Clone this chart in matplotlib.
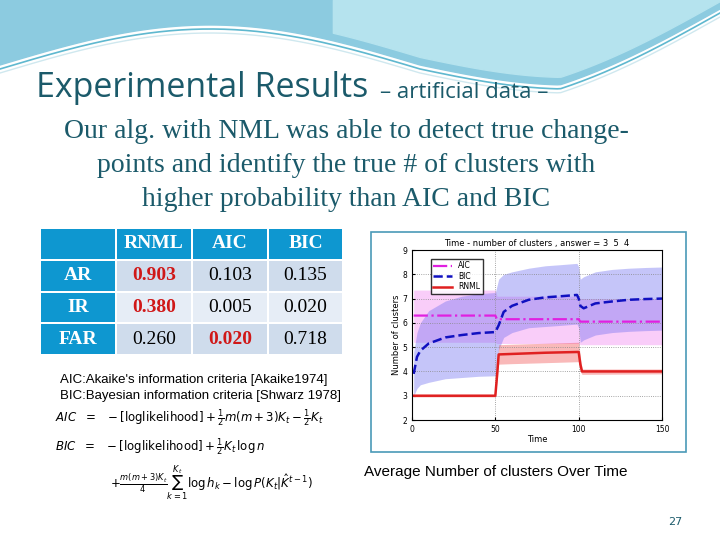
import numpy as np
import matplotlib.pyplot as plt
from matplotlib.patches import Rectangle

# ---- data ----
row_labels = ["AR", "IR", "FAR"]
col_labels = ["RNML", "AIC", "BIC"]
cell_values = [["0.903", "0.103", "0.135"],
               ["0.380", "0.005", "0.020"],
               ["0.260", "0.020", "0.718"]]
highlight = [[True, False, False], [True, False, False], [False, True, False]]

t_bic = [1, 3, 5, 10, 20, 30, 40, 50, 52, 55, 60, 70, 80, 90, 99, 100, 101, 103, 110, 120, 130, 140, 150]
bic_mean = [3.9, 4.6, 4.85, 5.15, 5.4, 5.5, 5.58, 5.62, 5.9, 6.45, 6.7, 6.95, 7.05, 7.1, 7.15, 7.0, 6.7, 6.6, 6.8, 6.88, 6.95, 6.98, 7.0]
bic_lo = [3.0, 3.3, 3.45, 3.55, 3.7, 3.75, 3.8, 3.82, 4.9, 5.4, 5.6, 5.8, 5.85, 5.9, 5.95, 5.8, 5.2, 5.3, 5.5, 5.6, 5.65, 5.68, 5.7]
bic_hi = [4.8, 5.6, 6.0, 6.5, 6.9, 7.1, 7.2, 7.25, 7.8, 8.0, 8.1, 8.25, 8.35, 8.4, 8.45, 8.3, 7.8, 7.9, 8.1, 8.2, 8.25, 8.28, 8.3]

t_aic = [1, 50, 51, 100, 101, 150]
aic_mean = [6.3, 6.3, 6.15, 6.15, 6.05, 6.05]
aic_lo = [5.2, 5.2, 5.15, 5.15, 5.1, 5.1]
aic_hi = [7.35, 7.35, 7.1, 7.1, 7.0, 7.0]

t_rnml = [1, 50, 51, 52, 60, 80, 99, 100, 101, 102, 150]
rnml_mean = [3.0, 3.0, 3.8, 4.7, 4.72, 4.77, 4.8, 4.8, 4.3, 4.0, 4.0]
rnml_lo = [2.95, 2.95, 3.6, 4.3, 4.32, 4.36, 4.4, 4.4, 4.0, 3.88, 3.9]
rnml_hi = [3.05, 3.05, 4.1, 5.1, 5.12, 5.16, 5.2, 5.2, 4.6, 4.1, 4.1]

fig = plt.figure(figsize=(7.2, 5.4), dpi=100)

# ---- background decoration ----
bg = fig.add_axes([0, 0, 1, 1])
bg.set_xlim(0, 720); bg.set_ylim(540, 0); bg.axis("off")
cx = np.linspace(0, 720, 200)
curve = 65 - 40 * np.sin(np.pi * cx / 420) * (cx < 420) + (cx >= 420) * (20 * np.sin(np.pi * (cx - 420) / 300))
curve = np.where(cx > 560, curve - (cx - 560) * 0.35, curve)
curve = np.clip(curve, 0, None)
bg.fill_between(cx, 0, curve, color="#8ccbe0")
bg.fill_between(cx[cx > 330], 0, curve[cx > 330] - 8, color="#b5e3ee")
bg.plot(cx, curve + 4, color="#5fb8cf", lw=1.2)
bg.plot(cx, curve + 8, color="#cfe8ef", lw=1)

bg.text(36, 88, "Experimental Results", fontsize=24.5, color="#1b5a6a", family="Open Sans", va="center")
bg.text(380, 92, "– artificial data –", fontsize=16, color="#1b5a6a", family="Open Sans", va="center")
for y, s in [(132, "Our alg. with NML was able to detect true change-"),
             (166, "points and identify the true # of clusters with"),
             (199, "higher probability than AIC and BIC")]:
    bg.text(346, y, s, fontsize=20, color="#1b5a6a", family="Liberation Serif", ha="center", va="center")

# ---- table ----
xs = [40, 116, 192, 268, 343]
ys = [228, 260, 292, 323, 355]
for r in range(4):
    for c in range(4):
        x0, x1 = xs[c] + 1, xs[c + 1] - 1
        y0, y1 = ys[r] + 1, ys[r + 1] - 1
        if r == 0 or c == 0:
            fc = "#0e97d0"
        else:
            fc = "#cfdcec" if r % 2 == 1 else "#e6edf6"
        bg.add_patch(Rectangle((x0, y0), x1 - x0, y1 - y0, fc=fc, ec="none"))
        xm, ym = (x0 + x1) / 2, (y0 + y1) / 2
        if r == 0 and c > 0:
            bg.text(xm, ym, col_labels[c - 1], color="white", fontsize=14, family="Liberation Serif", weight="bold", ha="center", va="center")
        elif c == 0 and r > 0:
            bg.text(xm, ym, row_labels[r - 1], color="white", fontsize=14, family="Liberation Serif", weight="bold", ha="center", va="center")
        elif r > 0:
            hl = highlight[r - 1][c - 1]
            bg.text(xm, ym, cell_values[r - 1][c - 1], color="#d01818" if hl else "black",
                    fontsize=14, family="Liberation Serif", weight="bold" if hl else "normal", ha="center", va="center")

# ---- explanation text & formulas ----
bg.text(60, 380, "AIC:Akaike's information criteria [Akaike1974]", fontsize=9.5, family="Liberation Sans", va="center")
bg.text(60, 396, "BIC:Bayesian information criteria [Shwarz 1978]", fontsize=9.5, family="Liberation Sans", va="center")
bg.text(55, 418, r"$AIC\ \ =\ \ -[\mathrm{loglikelihood}] + \frac{1}{2}m(m+3)K_t - \frac{1}{2}K_t$", fontsize=8.5, va="center")
bg.text(55, 447, r"$BIC\ \ =\ \ -[\mathrm{loglikelihood}] + \frac{1}{2}K_t\,\log n$", fontsize=8.5, va="center")
bg.text(110, 483, r"$+\frac{m(m+3)K_t}{4}\sum_{k=1}^{K_t}\log h_k - \log P(K_t|\hat{K}^{t-1})$", fontsize=8.5, va="center")

bg.text(364, 472, "Average Number of clusters Over Time", fontsize=11, family="Liberation Sans", va="center")
bg.text(682, 522, "27", fontsize=8, color="#1b5a6a", ha="right", va="center")

# chart frame
bg.add_patch(Rectangle((371, 232), 315, 220, fc="white", ec="#4a9ab8", lw=1.2))

# ---- chart ----
ax = fig.add_axes([412 / 720, 1 - 420 / 540, 250 / 720, 170 / 540])
ax.fill_between(t_aic, aic_lo, aic_hi, color="#f070f0", alpha=0.35, lw=0)
ax.fill_between(t_bic, bic_lo, bic_hi, color="#7070f0", alpha=0.4, lw=0)
ax.fill_between(t_rnml, rnml_lo, rnml_hi, color="#f05050", alpha=0.4, lw=0)
ax.plot(t_aic, aic_mean, color="#e020e0", ls="-.", lw=1.6, label="AIC")
ax.plot(t_bic, bic_mean, color="#1010c0", ls="--", lw=1.8, label="BIC")
ax.plot(t_rnml, rnml_mean, color="#e02020", ls="-", lw=1.8, label="RNML")
ax.set_xlim(0, 150); ax.set_ylim(2, 9)
ax.set_xticks([0, 50, 100, 150]); ax.set_yticks(range(2, 10))
ax.tick_params(labelsize=5.5, length=2, direction="in")
ax.grid(True, ls=":", color="#888888", lw=0.6)
ax.set_xlabel("Time", fontsize=6, labelpad=1)
ax.set_ylabel("Number of clusters", fontsize=6, labelpad=1)
ax.set_title("Time - number of clusters , answer = 3  5  4", fontsize=6, pad=3)
ax.legend(loc="upper left", fontsize=5.5, frameon=True, fancybox=False, edgecolor="black",
          handlelength=2.5, borderpad=0.3, labelspacing=0.2, bbox_to_anchor=(0.06, 0.97))

fig.savefig("out.png", dpi=100)
